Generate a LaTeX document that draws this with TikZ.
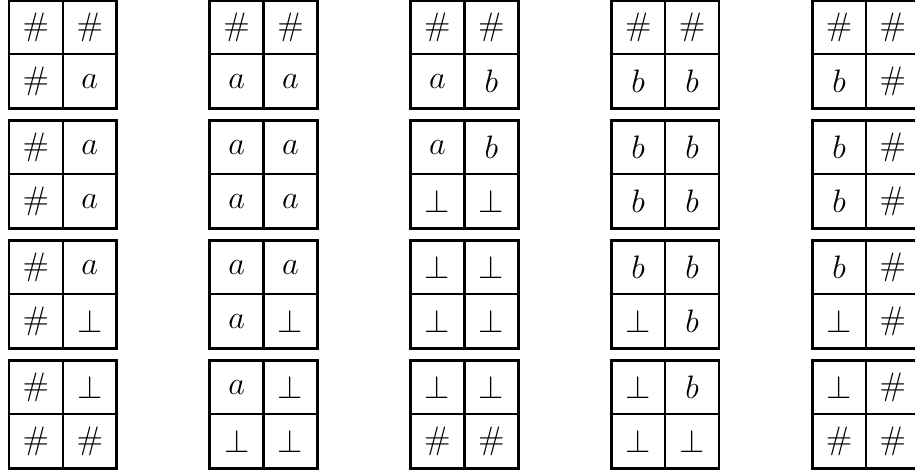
\documentclass[tikz,border=0pt]{standalone}
\begin{document}
\begin{tikzpicture}[
    cell/.style={draw=black, line width=0.9pt, minimum size=7mm,
                 inner sep=0pt, outer sep=0pt, font=\large},
    frame/.style={draw=black, line width=1.1pt}]

  % ---- page: the right column runs off the edge, as in the original
  \useasboundingbox (0,0) rectangle (11.895,-6.149);

  % ---- tiles: column/row/top-left/top-right/bottom-left/bottom-right
  \foreach \c/\r/\tl/\tr/\bl/\br in {
      0/0/$\#$/$\#$/$\#$/$a$,      1/0/$\#$/$\#$/$a$/$a$,
      2/0/$\#$/$\#$/$a$/$b$,       3/0/$\#$/$\#$/$b$/$b$,
      4/0/$\#$/$\#$/$b$/$\#$,
      0/1/$\#$/$a$/$\#$/$a$,       1/1/$a$/$a$/$a$/$a$,
      2/1/$a$/$b$/$\bot$/$\bot$,   3/1/$b$/$b$/$b$/$b$,
      4/1/$b$/$\#$/$b$/$\#$,
      0/2/$\#$/$a$/$\#$/$\bot$,    1/2/$a$/$a$/$a$/$\bot$,
      2/2/$\bot$/$\bot$/$\bot$/$\bot$, 3/2/$b$/$b$/$\bot$/$b$,
      4/2/$b$/$\#$/$\bot$/$\#$,
      0/3/$\#$/$\bot$/$\#$/$\#$,   1/3/$a$/$\bot$/$\bot$/$\bot$,
      2/3/$\bot$/$\bot$/$\#$/$\#$, 3/3/$\bot$/$b$/$\bot$/$\bot$,
      4/3/$\bot$/$\#$/$\#$/$\#$}{
    \pgfmathsetmacro{\x}{0.467+2.61*\c}
    \pgfmathsetmacro{\y}{-0.355-1.56*\r}
    \node[cell] (t\c\r-tl) at (\x,\y)         {\tl};
    \node[cell] (t\c\r-tr) at (\x+0.7,\y)     {\tr};
    \node[cell] (t\c\r-bl) at (\x,\y-0.7)     {\bl};
    \node[cell] (t\c\r-br) at (\x+0.7,\y-0.7) {\br};
    \draw[frame] (t\c\r-tl.north west) rectangle (t\c\r-br.south east);
  }
\end{tikzpicture}
\end{document}
